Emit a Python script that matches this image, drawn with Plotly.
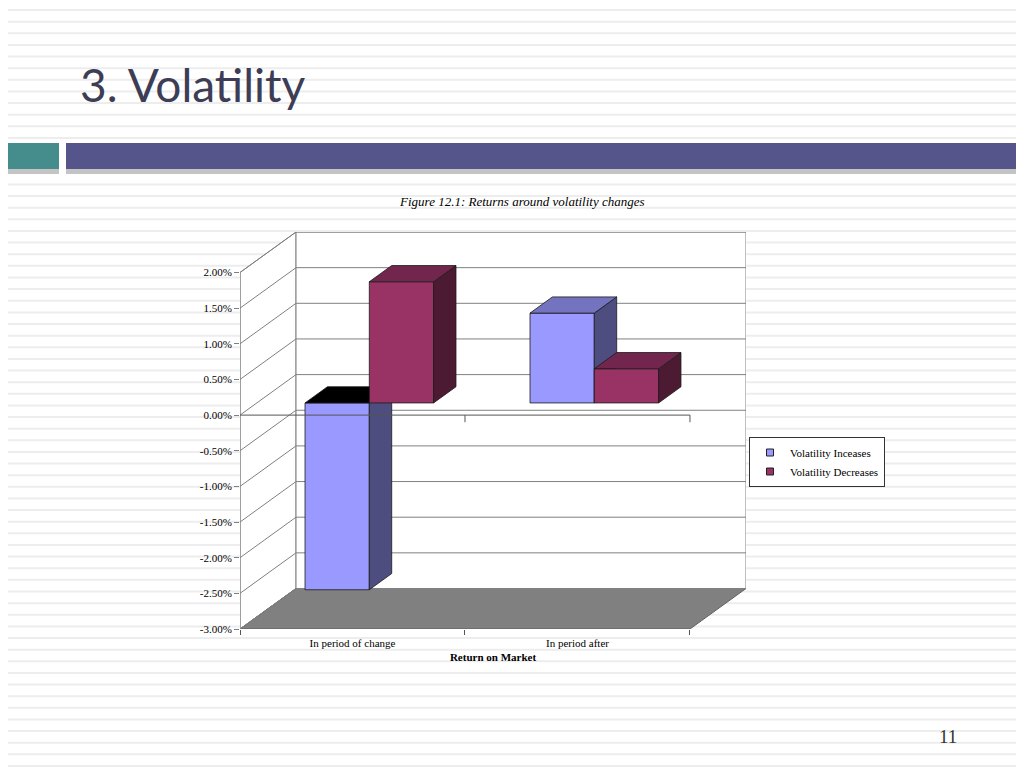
import plotly.graph_objects as go

# values (percent returns)
categories = ["In period of change", "In period after"]
series_names = ["Volatility Inceases", "Volatility Decreases"]
vol_increases = [-2.62, 1.26]
vol_decreases = [1.70, 0.48]
y_ticks = [2.0, 1.5, 1.0, 0.5, 0.0, -0.5, -1.0, -1.5, -2.0, -2.5, -3.0]
y_ticktext = [f"{v:.2f}%" for v in y_ticks]

# fake 3d geometry (data units)
DX, DY = 0.249, 0.568      # depth of the chart box
F0, F1 = 0.30, 0.70        # bar depth, as fraction of the box depth
BAR_W = 1 / 3.5            # two bars + 150% gap
Y_MIN, Y_MAX = -3.0, 2.0
N_CAT = len(categories)

front_col = ["#9999FF", "#993366"]
side_col = ["#4D4D80", "#4D1A33"]
top_col = ["#7373BF", "#73264D"]
neg_top_col = "#000000"

# page offset of the figure (body margin) and plot area in screen pixels
OFF = 8
W, H = 1024, 768
L, R, T, B = 240 - OFF, 746 - OFF, 232 - OFF, 629 - OFF


def px(p):
    return (p - OFF - L) / (R - L)


def py(p):
    return (B - (p - OFF)) / (B - T)


fig = go.Figure()

def poly(xs, ys, fill, line="#808080", width=1):
    fig.add_trace(go.Scatter(
        x=xs, y=ys, mode="lines", fill="toself", fillcolor=fill,
        line=dict(color=line, width=width), hoverinfo="skip", showlegend=False,
    ))

# walls and floor
poly([0, 0, DX, DX, 0], [Y_MIN, Y_MAX, Y_MAX + DY, Y_MIN + DY, Y_MIN], "white")
poly([DX, N_CAT + DX, N_CAT + DX, DX, DX],
     [Y_MIN + DY, Y_MIN + DY, Y_MAX + DY, Y_MAX + DY, Y_MIN + DY], "white")
poly([0, N_CAT, N_CAT + DX, DX, 0],
     [Y_MIN, Y_MIN, Y_MIN + DY, Y_MIN + DY, Y_MIN], "#808080", line="#606060")

gx, gy = [], []
for v in y_ticks:
    gx += [0, DX, N_CAT + DX, None]
    gy += [v, v + DY, v + DY, None]
fig.add_trace(go.Scatter(x=gx, y=gy, mode="lines", line=dict(color="#808080", width=1),
                         hoverinfo="skip", showlegend=False))
fig.add_trace(go.Scatter(x=[0, 0], y=[Y_MIN, Y_MAX], mode="lines",
                         line=dict(color="#808080", width=1),
                         hoverinfo="skip", showlegend=False))

# 3d columns
all_series = [vol_increases, vol_decreases]
for ci in range(N_CAT):
    center = ci + 0.5
    for si, values in enumerate(all_series):
        v = values[ci]
        xa = center - BAR_W + si * BAR_W
        xb = xa + BAR_W
        x0, y0 = DX * F0, DY * F0
        x1, y1 = DX * F1, DY * F1
        # front face
        poly([xa + x0, xb + x0, xb + x0, xa + x0, xa + x0],
             [y0, y0, v + y0, v + y0, y0], front_col[si], line="#1a1a1a", width=0.8)
        # right side
        poly([xb + x0, xb + x1, xb + x1, xb + x0, xb + x0],
             [y0, y1, v + y1, v + y0, y0], side_col[si], line="#1a1a1a", width=0.8)
        # top
        yt = max(v, 0)
        poly([xa + x0, xb + x0, xb + x1, xa + x1, xa + x0],
             [yt + y0, yt + y0, yt + y1, yt + y1, yt + y0],
             top_col[si] if v >= 0 else neg_top_col, line="#1a1a1a", width=0.8)

# category axis at zero on the front plane
zx, zy = [0, N_CAT], [0, 0]
for k in range(1, N_CAT + 1):
    zx += [None, k, k]
    zy += [None, 0, -0.1]
fig.add_trace(go.Scatter(x=zx, y=zy, mode="lines", line=dict(color="#555555", width=1),
                         hoverinfo="skip", showlegend=False))

# legend entries
for si, name in enumerate(series_names):
    fig.add_trace(go.Scatter(
        x=[None], y=[None], mode="markers", name=name,
        marker=dict(symbol="square", size=7, color=front_col[si],
                    line=dict(color="#222222", width=1)),
    ))

# slide background: ruled lines and header bars
shapes = []
k = 0
while 10 + 11.63 * k < H + OFF:
    yy = 10 + 11.63 * k
    shapes.append(dict(type="line", xref="paper", yref="paper", layer="below",
                       x0=px(0), x1=px(W + OFF), y0=py(yy), y1=py(yy),
                       line=dict(color="#EDEDED", width=2)))
    k += 1
shapes.append(dict(type="rect", xref="paper", yref="paper", layer="below",
                   x0=px(3), x1=px(W + OFF), y0=py(147), y1=py(174),
                   fillcolor="#C4C4C4", line=dict(width=0)))
shapes.append(dict(type="rect", xref="paper", yref="paper", layer="below",
                   x0=px(0), x1=px(59), y0=py(143), y1=py(169),
                   fillcolor="#458C8C", line=dict(width=0)))
shapes.append(dict(type="rect", xref="paper", yref="paper", layer="below",
                   x0=px(59), x1=px(66), y0=py(140), y1=py(176),
                   fillcolor="white", line=dict(width=0)))
shapes.append(dict(type="rect", xref="paper", yref="paper", layer="below",
                   x0=px(66), x1=px(W + OFF), y0=py(143), y1=py(169),
                   fillcolor="#55558B", line=dict(width=0)))

annotations = [
    dict(text="3. Volatility", xref="paper", yref="paper", x=px(78), y=py(85),
         xanchor="left", yanchor="middle", showarrow=False,
         font=dict(family="Lato", size=46, color="#3D3D55")),
    dict(text="<i>Figure 12.1: Returns around volatility changes</i>",
         xref="paper", yref="paper", x=px(522), y=py(201),
         xanchor="center", yanchor="middle", showarrow=False,
         font=dict(family="Liberation Serif", size=13, color="#000")),
    dict(text="11", xref="paper", yref="paper", x=px(948), y=py(736),
         xanchor="center", yanchor="middle", showarrow=False,
         font=dict(family="Liberation Serif", size=19, color="#333")),
]

fig.update_layout(
    width=W, height=H,
    margin=dict(l=L, r=W - R, t=T, b=H - B),
    paper_bgcolor="white", plot_bgcolor="rgba(0,0,0,0)",
    font=dict(family="Liberation Serif", size=11, color="#000"),
    shapes=shapes, annotations=annotations,
    showlegend=True,
    legend=dict(x=px(749), y=py(437), xanchor="left", yanchor="top",
                bgcolor="white", bordercolor="#333", borderwidth=1,
                font=dict(family="Liberation Serif", size=11),
                itemwidth=30, tracegroupgap=0),
    xaxis=dict(range=[0, N_CAT + DX], tickvals=[0.5, 1.5], ticktext=categories,
               ticks="", showgrid=False, zeroline=False, showline=False,
               ticklabelstandoff=6, fixedrange=True,
               minor=dict(tickvals=[0, 1, 2], ticks="outside", ticklen=5,
                          tickcolor="#555555", showgrid=False),
               title=dict(text="<b>Return on Market</b>", standoff=5,
                          font=dict(family="Liberation Serif", size=11))),
    yaxis=dict(range=[Y_MIN, Y_MAX + DY], tickvals=y_ticks, ticktext=y_ticktext,
               ticks="outside", ticklen=5, tickcolor="#808080",
               showgrid=False, zeroline=False, showline=False, fixedrange=True),
)

fig.write_html("out.html")
